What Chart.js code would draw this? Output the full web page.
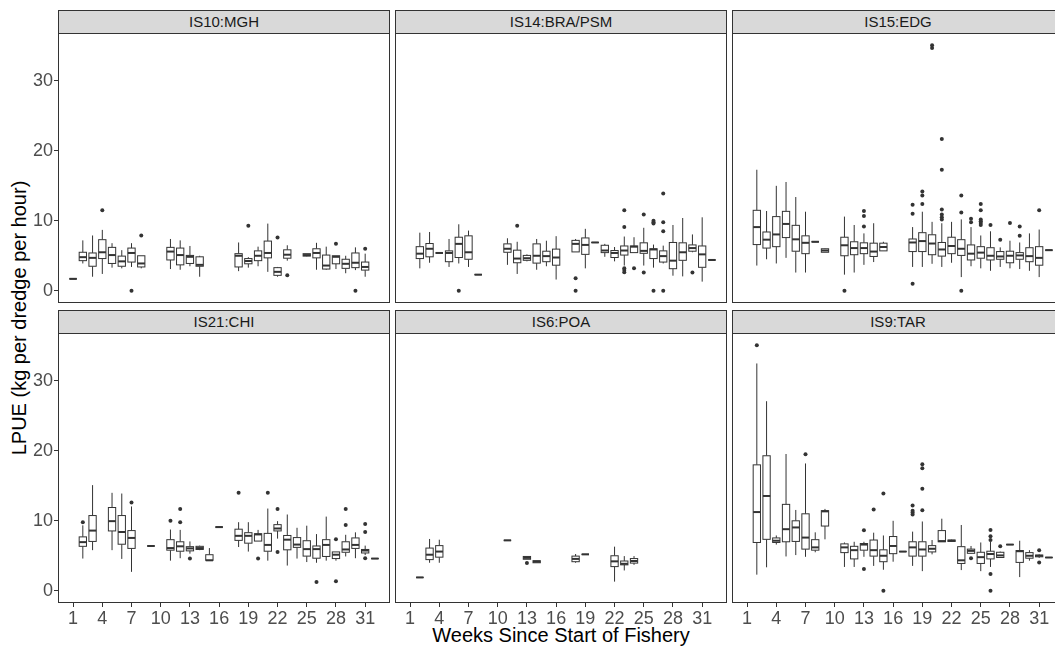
<!DOCTYPE html>
<html>
<head>
<meta charset="utf-8">
<script src="https://cdn.jsdelivr.net/npm/chart.js"></script>
<style>
  html, body {
    margin: 0;
    background: #fff;
    overflow: hidden;
  }
  body {
    position: relative;
    width: 1055px;
    height: 648px;
    font-family: "Liberation Sans", Arial, sans-serif;
  }
  .strip {
    position: absolute;
    height: 24px;
    background: #d9d9d9;
    border: 1px solid #333;
    box-sizing: border-box;
    text-align: center;
    font-size: 15px;
    line-height: 22px;
    color: #1a1a1a;
  }
  .panel { position: absolute; }
  .xtitle {
    position: absolute;
    left: 58px;
    width: 1006px;
    top: 624px;
    text-align: center;
    font-size: 20px;
    line-height: 23px;
    color: #000;
  }
  .ytitle {
    position: absolute;
    left: 19px;
    top: 318px;
    transform: translate(-50%, -50%) rotate(-90deg);
    white-space: nowrap;
    font-size: 20px;
    color: #000;
  }
</style>
</head>
<body>
<div class="xtitle">Weeks Since Start of Fishery</div>
<div class="ytitle">LPUE (kg per dredge per hour)</div>

<script>
  const facetLabels = ['IS10:MGH', 'IS14:BRA/PSM', 'IS15:EDG', 'IS21:CHI', 'IS6:POA', 'IS9:TAR'];
  const xTicks = [1, 4, 7, 10, 13, 16, 19, 22, 25, 28, 31];
  const yTicks = [0, 10, 20, 30];

  // box stats per week: [lower whisker, q1, median, q3, upper whisker]
  const weeksMGH = [1, 2, 3, 4, 5, 6, 7, 8, 11, 12, 13, 14, 18, 19, 20, 21, 22, 23, 25, 26, 27, 28, 29, 30, 31];
  const statsMGH = [
    [1.7, 1.7, 1.7, 1.7, 1.7], [3.9, 4.3, 4.8, 5.5, 7.2], [2.0, 3.5, 4.7, 5.4, 7.9], [2.4, 4.6, 5.5, 7.3, 8.7],
    [3.3, 3.9, 5.1, 6.2, 6.8], [3.2, 3.5, 4.2, 4.95, 5.8], [3.4, 4.1, 5.4, 6.1, 6.8], [3.2, 3.4, 3.9, 5.0, 5.0],
    [3.1, 4.4, 5.6, 6.2, 7.4], [3.0, 3.7, 5.1, 6.1, 7.2], [3.5, 3.9, 4.85, 5.05, 6.4], [2.0, 3.5, 3.7, 4.85, 5.0],
    [2.8, 3.4, 5.0, 5.3, 6.9], [3.3, 3.85, 4.25, 4.6, 4.8], [3.5, 4.3, 5.0, 5.7, 6.3], [2.7, 4.7, 5.4, 7.1, 9.6],
    [2.0, 2.2, 2.7, 3.3, 3.4], [4.3, 4.65, 5.15, 5.85, 6.5], [4.9, 4.95, 5.1, 5.3, 5.3], [3.0, 4.7, 5.4, 6.0, 6.85],
    [3.0, 3.1, 3.6, 5.1, 6.3], [3.1, 3.85, 4.85, 5.0, 5.0], [2.5, 3.2, 3.85, 4.5, 5.0], [2.95, 3.3, 4.0, 5.4, 6.2],
    [2.0, 2.95, 3.4, 4.1, 5.3]
  ];
  const outMGH = [[4, 11.5], [7, 0], [8, 7.9], [19, 9.3], [22, 7.6], [23, 2.2], [28, 6.7], [30, 0], [31, 6.0]];

  const weeksBRA = [2, 3, 4, 5, 6, 7, 8, 11, 12, 13, 14, 15, 16, 18, 19, 20, 21, 22, 23, 24, 25, 26, 27, 28, 29, 30, 31, 32];
  const statsBRA = [
    [3.2, 4.6, 5.3, 6.3, 8.3], [4.0, 4.85, 6.0, 6.75, 8.4], [5.4, 5.4, 5.4, 5.4, 5.4], [3.4, 4.15, 5.4, 5.7, 7.4],
    [3.9, 4.75, 6.7, 7.65, 9.5], [3.4, 4.5, 5.5, 7.85, 8.6], [2.3, 2.3, 2.3, 2.3, 2.3], [3.7, 5.5, 6.0, 6.7, 7.5],
    [2.4, 4.0, 4.6, 5.8, 7.0], [4.2, 4.35, 4.65, 5.05, 5.2], [3.0, 3.95, 5.0, 6.7, 7.4], [3.5, 4.15, 4.95, 5.65, 7.15],
    [1.6, 3.65, 4.75, 5.95, 7.8], [5.55, 5.55, 6.7, 7.2, 7.4], [3.2, 5.2, 6.55, 7.55, 8.85], [6.9, 6.9, 6.9, 6.9, 6.9],
    [4.85, 5.45, 5.75, 6.5, 6.7], [4.2, 4.75, 5.4, 5.75, 6.25], [3.6, 5.1, 5.75, 6.4, 7.75], [5.45, 5.45, 6.3, 6.4, 7.65],
    [3.6, 5.35, 5.7, 6.85, 9.0], [3.3, 4.6, 5.9, 6.0, 6.6], [3.9, 4.1, 4.95, 5.7, 6.45], [2.15, 3.15, 4.3, 6.9, 9.4],
    [2.05, 4.35, 5.5, 6.85, 10.4], [5.5, 5.65, 6.1, 6.55, 8.05], [1.3, 3.35, 5.2, 6.4, 10.5], [4.4, 4.4, 4.4, 4.4, 4.4]
  ];
  const outBRA = [
    [6, 0], [12, 9.3], [18, 1.8], [18, 0], [23, 11.5], [23, 9.1], [23, 3.2], [23, 2.95], [23, 2.65], [24, 3.2],
    [25, 10.9], [25, 2.6], [26, 10.0], [26, 9.8], [26, 9.6], [26, 0], [27, 13.9], [27, 9.8], [27, 8.5], [27, 0], [30, 2.6]
  ];

  const weeksEDG = [2, 3, 4, 5, 6, 7, 8, 9, 11, 12, 13, 14, 15, 18, 19, 20, 21, 22, 23, 24, 25, 26, 27, 28, 29, 30, 31, 32];
  const statsEDG = [
    [3.6, 6.6, 9.1, 11.5, 17.3], [4.5, 6.1, 7.3, 8.4, 11.4], [3.9, 6.3, 8.05, 10.6, 15.0], [4.7, 7.6, 9.55, 11.35, 15.55],
    [2.6, 5.65, 7.35, 9.35, 13.4], [2.6, 5.3, 6.85, 7.85, 11.3], [7.0, 7.0, 7.0, 7.0, 7.0], [5.5, 5.5, 5.75, 6.0, 6.05],
    [2.3, 5.0, 6.5, 7.65, 10.6], [2.6, 5.15, 6.1, 7.0, 9.4], [3.7, 5.3, 6.1, 6.85, 8.2], [4.1, 4.9, 5.6, 6.8, 9.65],
    [5.7, 5.7, 6.25, 6.8, 7.0], [3.4, 5.6, 6.9, 7.4, 9.1], [3.4, 5.6, 7.1, 8.3, 11.3], [3.85, 5.15, 6.75, 8.0, 9.85],
    [3.4, 4.95, 5.9, 6.9, 9.65], [4.0, 5.3, 6.4, 7.65, 9.85], [1.95, 5.05, 6.0, 7.3, 10.2], [3.5, 4.4, 5.3, 6.55, 9.1],
    [3.2, 4.65, 5.45, 6.3, 7.9], [2.85, 4.4, 5.0, 6.15, 8.5], [3.4, 4.5, 4.9, 5.6, 6.2], [3.2, 4.0, 5.0, 5.65, 7.15],
    [3.1, 4.5, 5.05, 5.45, 6.9], [2.85, 4.15, 4.95, 6.15, 8.2], [1.95, 3.65, 4.7, 6.3, 8.75], [5.8, 5.8, 5.8, 5.8, 5.8]
  ];
  const outEDG = [
    [11, 0], [13, 11.4], [13, 10.7], [13, 9.2], [18, 12.3], [18, 11.0], [18, 1.0], [19, 14.2], [19, 13.6], [19, 12.4],
    [20, 35.1], [20, 34.7], [21, 21.7], [21, 17.3], [21, 11.6], [21, 10.9], [21, 10.5], [21, 10.2], [23, 13.6], [23, 11.2],
    [23, 0], [24, 10.3], [24, 9.8], [25, 12.4], [25, 11.5], [25, 10.2], [25, 9.95], [25, 9.7], [25, 9.4], [26, 9.4],
    [27, 7.3], [28, 9.7], [29, 9.2], [29, 7.85], [31, 11.5]
  ];

  const weeksCHI = [2, 3, 5, 6, 7, 9, 11, 12, 13, 14, 15, 16, 18, 19, 20, 21, 22, 23, 24, 25, 26, 27, 28, 29, 30, 31, 32];
  const statsCHI = [
    [4.6, 6.35, 6.95, 7.7, 9.35], [5.8, 7.05, 8.6, 10.75, 15.1], [5.8, 8.55, 9.95, 11.9, 14.0], [4.55, 6.65, 8.4, 10.75, 13.9],
    [2.7, 6.05, 7.55, 8.6, 12.05], [6.4, 6.4, 6.4, 6.4, 6.4], [4.3, 5.8, 6.1, 7.3, 8.75], [4.65, 5.65, 6.35, 7.0, 8.7],
    [5.3, 5.7, 6.05, 6.3, 7.05], [5.8, 5.9, 6.1, 6.35, 6.45], [4.35, 4.35, 4.35, 5.15, 6.1], [9.1, 9.1, 9.1, 9.1, 9.1],
    [6.25, 7.2, 7.85, 8.8, 9.8], [5.6, 6.8, 7.85, 8.3, 9.8], [7.1, 7.1, 8.05, 8.15, 8.7], [4.3, 5.65, 6.55, 8.2, 11.75],
    [7.45, 8.55, 8.9, 9.45, 9.95], [3.6, 5.85, 7.3, 7.9, 10.9], [4.6, 6.2, 6.6, 7.6, 9.0], [4.1, 4.95, 5.95, 7.15, 9.3],
    [4.0, 4.65, 5.95, 6.4, 8.1], [4.3, 4.9, 6.55, 7.3, 10.6], [4.3, 4.6, 5.15, 5.55, 5.55], [4.9, 5.5, 5.9, 7.0, 8.0],
    [4.65, 6.05, 6.55, 7.55, 8.35], [5.1, 5.4, 5.75, 5.9, 6.45], [4.6, 4.6, 4.6, 4.6, 4.6]
  ];
  const outCHI = [
    [2, 9.8], [7, 12.6], [11, 10.0], [12, 11.7], [12, 9.8], [13, 4.6], [18, 14.0], [20, 4.6], [21, 14.0], [22, 11.7],
    [22, 5.55], [26, 1.25], [28, 7.35], [28, 1.35], [29, 11.7], [29, 9.4], [31, 9.55], [31, 8.4], [31, 4.65]
  ];

  const weeksPOA = [2, 3, 4, 11, 13, 14, 18, 19, 22, 23, 24];
  const statsPOA = [
    [1.9, 1.9, 1.9, 1.9, 1.9], [4.0, 4.45, 5.15, 6.1, 7.4], [4.0, 4.8, 5.6, 6.45, 7.3], [7.2, 7.2, 7.2, 7.2, 7.2],
    [4.5, 4.5, 4.7, 4.9, 4.9], [4.0, 4.0, 4.15, 4.3, 4.3], [4.0, 4.15, 4.55, 4.95, 5.25], [5.2, 5.2, 5.2, 5.2, 5.2],
    [1.3, 3.45, 4.2, 5.0, 6.3], [2.9, 3.7, 3.85, 4.25, 4.95], [3.7, 3.95, 4.25, 4.6, 4.95]
  ];
  const outPOA = [[13, 3.95]];

  const weeksTAR = [2, 3, 4, 5, 6, 7, 8, 9, 11, 12, 13, 14, 15, 16, 17, 18, 19, 20, 21, 22, 23, 24, 25, 26, 27, 28, 29, 30, 31, 32];
  const statsTAR = [
    [2.3, 6.9, 11.25, 18.0, 32.5], [3.35, 7.35, 13.55, 19.3, 27.1], [6.6, 6.9, 7.15, 7.55, 7.9], [4.9, 7.0, 8.8, 12.35, 19.55],
    [5.1, 7.05, 9.05, 10.0, 11.55], [4.85, 5.95, 7.6, 11.0, 18.2], [5.5, 5.8, 6.2, 7.3, 8.35], [7.35, 9.25, 11.35, 11.45, 11.7],
    [3.4, 5.45, 6.2, 6.7, 6.9], [3.4, 4.55, 5.8, 6.35, 7.0], [4.85, 5.8, 6.6, 6.75, 7.0], [3.55, 4.95, 5.8, 7.25, 8.3],
    [3.0, 4.15, 5.0, 5.85, 7.9], [4.15, 5.3, 6.4, 7.75, 10.0], [5.6, 5.6, 5.6, 5.6, 5.6], [3.55, 4.95, 6.2, 7.0, 8.45],
    [2.8, 4.95, 5.9, 7.0, 9.9], [5.2, 5.55, 6.0, 6.45, 7.25], [7.0, 7.0, 7.1, 8.6, 10.3], [7.0, 7.05, 7.15, 7.25, 7.3],
    [2.95, 3.9, 4.35, 6.3, 9.4], [5.3, 5.35, 5.7, 5.95, 6.4], [2.8, 3.9, 4.8, 5.5, 6.9], [3.4, 4.55, 5.25, 5.65, 7.0],
    [4.7, 4.75, 5.05, 5.5, 5.6], [6.6, 6.6, 6.6, 6.6, 6.6], [1.95, 4.05, 5.65, 5.75, 7.15], [4.3, 4.65, 5.0, 5.45, 5.8],
    [4.7, 4.85, 5.0, 5.1, 5.2], [4.75, 4.75, 4.75, 4.75, 4.75]
  ];
  const outTAR = [
    [2, 35.1], [7, 19.5], [13, 8.65], [13, 3.1], [14, 11.6], [15, 13.9], [15, 0], [18, 12.2], [18, 11.45], [18, 11.2],
    [18, 10.9], [19, 18.1], [19, 17.5], [19, 14.6], [19, 11.5], [24, 4.65], [26, 8.7], [26, 7.8], [26, 7.25], [26, 2.4],
    [26, 0], [27, 6.35], [31, 5.8], [31, 4.05]
  ];

  const facetWeeks = [weeksMGH, weeksBRA, weeksEDG, weeksCHI, weeksPOA, weeksTAR];
  const facetStats = [statsMGH, statsBRA, statsEDG, statsCHI, statsPOA, statsTAR];
  const facetOut = [outMGH, outBRA, outEDG, outCHI, outPOA, outTAR];

  // shared scales, ggplot-style 5% expansion
  const X_MIN = -0.55, X_MAX = 33.55;
  const Y_MIN = -1.755, Y_MAX = 36.855;
  const BOX_W = 0.75;

  // panel grid geometry
  const PANEL_W = 332, PANEL_H = 270;
  const colLeft = [58, 395, 732];
  const rowTop = [33, 333];
  const STRIP_H = 23;
  const Y_AXIS_W = 40, X_AXIS_H = 34;

  const INK = '#333333';
  const TICK_TEXT = '#4d4d4d';
  const FONT = 'Liberation Sans, Arial, sans-serif';

  // fixed axis sizes so every panel lines up, no label overhang padding
  function fixSize(s, size) {
    if (s.options.display) {
      if (s.isHorizontal()) s.height = size; else s.width = size;
    }
    s.paddingTop = s.paddingBottom = s.paddingLeft = s.paddingRight = 0;
  }

  function boxPlugin(weeks, stats) {
    return {
      id: 'boxes',
      beforeDatasetsDraw(chart) {
        const { ctx, chartArea: a, scales: { x, y } } = chart;
        ctx.save();
        ctx.beginPath();
        ctx.rect(a.left, a.top, a.width, a.height);
        ctx.clip();
        ctx.strokeStyle = INK;
        weeks.forEach((w, i) => {
          const [lo, q1, md, q3, hi] = stats[i];
          const cx = x.getPixelForValue(w);
          const x0 = x.getPixelForValue(w - BOX_W / 2);
          const x1 = x.getPixelForValue(w + BOX_W / 2);
          const yLo = y.getPixelForValue(lo), yQ1 = y.getPixelForValue(q1);
          const yMd = y.getPixelForValue(md), yQ3 = y.getPixelForValue(q3);
          const yHi = y.getPixelForValue(hi);
          ctx.lineWidth = 1;
          ctx.beginPath();
          ctx.moveTo(cx, yHi); ctx.lineTo(cx, yQ3);
          ctx.moveTo(cx, yQ1); ctx.lineTo(cx, yLo);
          ctx.stroke();
          ctx.fillStyle = '#fff';
          ctx.fillRect(x0, yQ3, x1 - x0, yQ1 - yQ3);
          ctx.strokeRect(x0, yQ3, x1 - x0, yQ1 - yQ3);
          ctx.lineWidth = 2;
          ctx.beginPath();
          ctx.moveTo(x0, yMd); ctx.lineTo(x1, yMd);
          ctx.stroke();
        });
        ctx.restore();
      },
      afterDraw(chart) {
        const { ctx, chartArea: a } = chart;
        ctx.save();
        ctx.strokeStyle = INK;
        ctx.lineWidth = 1;
        ctx.strokeRect(a.left + 0.5, a.top + 0.5, a.width - 1, a.height - 1);
        ctx.restore();
      }
    };
  }

  facetLabels.forEach((label, k) => {
    const col = k % 3, row = Math.floor(k / 3);
    const showY = col === 0, showX = row === 1;

    // strip bottom edge shares the panel's top border line
    const strip = document.createElement('div');
    strip.className = 'strip';
    strip.textContent = label;
    strip.style.left = colLeft[col] + 'px';
    strip.style.top = (rowTop[row] - STRIP_H) + 'px';
    strip.style.width = PANEL_W + 'px';
    document.body.appendChild(strip);

    const w = PANEL_W + (showY ? Y_AXIS_W : 0);
    const h = PANEL_H + (showX ? X_AXIS_H : 0);
    const holder = document.createElement('div');
    holder.className = 'panel';
    holder.style.left = (colLeft[col] - (showY ? Y_AXIS_W : 0)) + 'px';
    holder.style.top = rowTop[row] + 'px';
    const canvas = document.createElement('canvas');
    canvas.width = w;
    canvas.height = h;
    canvas.style.width = w + 'px';
    canvas.style.height = h + 'px';
    holder.appendChild(canvas);
    document.body.appendChild(holder);

    new Chart(canvas, {
      type: 'scatter',
      data: {
        datasets: [{
          data: facetOut[k].map(([wk, v]) => ({ x: wk, y: v })),
          pointRadius: 2,
          pointHoverRadius: 2,
          pointBackgroundColor: INK,
          pointBorderWidth: 0
        }]
      },
      options: {
        responsive: false,
        devicePixelRatio: 1,
        animation: false,
        events: [],
        layout: { padding: 0, autoPadding: false },
        plugins: { legend: { display: false }, tooltip: { enabled: false } },
        scales: {
          x: {
            type: 'linear',
            min: X_MIN,
            max: X_MAX,
            display: showX,
            afterBuildTicks: s => { s.ticks = xTicks.map(v => ({ value: v })); },
            afterFit: s => fixSize(s, X_AXIS_H),
            ticks: {
              autoSkip: false,
              maxRotation: 0,
              padding: 1,
              color: TICK_TEXT,
              font: { family: FONT, size: 18 }
            },
            grid: { drawOnChartArea: false, drawTicks: true, tickLength: 4, tickColor: INK },
            border: { display: false }
          },
          y: {
            type: 'linear',
            min: Y_MIN,
            max: Y_MAX,
            display: showY,
            afterBuildTicks: s => { s.ticks = yTicks.map(v => ({ value: v })); },
            afterFit: s => fixSize(s, Y_AXIS_W),
            ticks: {
              padding: 1,
              color: TICK_TEXT,
              font: { family: FONT, size: 18 }
            },
            grid: { drawOnChartArea: false, drawTicks: true, tickLength: 4, tickColor: INK },
            border: { display: false }
          }
        }
      },
      plugins: [boxPlugin(facetWeeks[k], facetStats[k])]
    });
  });
</script>
</body>
</html>
